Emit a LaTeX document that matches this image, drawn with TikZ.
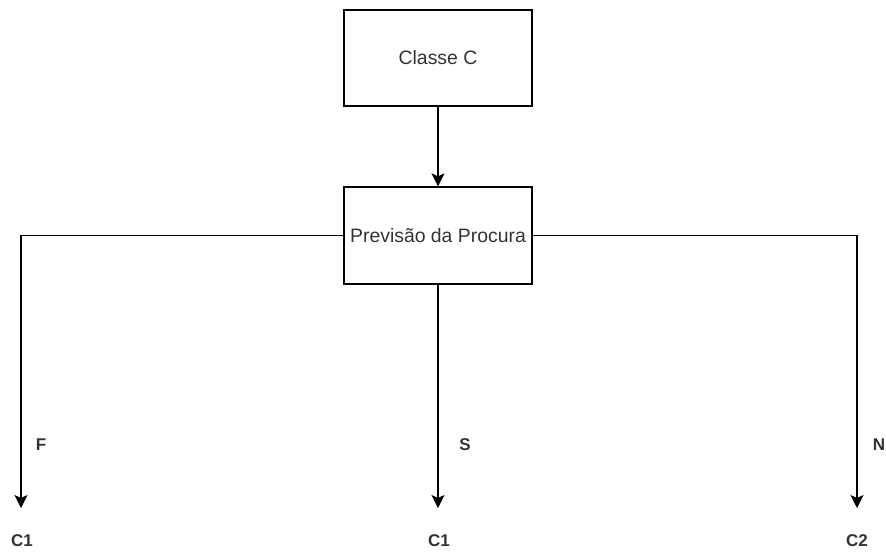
\documentclass[tikz,border=0pt]{standalone}
\usepackage{fontspec}
\setmainfont{Liberation Sans}
\usetikzlibrary{arrows.meta}
\definecolor{txt}{HTML}{333333}
\tikzset{
  box/.style={draw=black, line width=1.3pt, minimum width=188pt, minimum height=96pt,
    inner sep=0pt, font=\fontsize{19.4}{21}\selectfont, text=txt},
  link/.style={draw=black, line width=1.3pt,
    -{Stealth[length=13pt, width=13pt, inset=3pt]}},
  tag/.style={font=\bfseries\fontsize{17}{19}\selectfont, text=txt, inner sep=0pt},
}
\begin{document}
\begin{tikzpicture}[x=1pt, y=-1pt]
  \useasboundingbox (0,0) rectangle (886,552);
  % boxes
  \node[box] (classe) at (438,58) {Classe C};
  \node[box, minimum height=97pt] (prev) at (438,235.5) {Previsão da Procura};
  % branch end points
  \coordinate (endF) at (21,508);
  \coordinate (endS) at (438,508);
  \coordinate (endN) at (857,508);
  % outcome labels
  \node[tag] (outF) at (22,541) {C1};
  \node[tag] (outS) at (439,541) {C1};
  \node[tag] (outN) at (857,541) {C2};
  % branch labels
  \node[tag] (lblF) at (41,445) {F};
  \node[tag] (lblS) at (465,445) {S};
  \node[tag] (lblN) at (879,445) {N};
  % connectors
  \draw[link] (classe.south) -- (prev.north);
  \draw[link] (prev.west) -| (endF);
  \draw[link] (prev.south) -- (endS);
  \draw[link] (prev.east) -| (endN);
\end{tikzpicture}
\end{document}
